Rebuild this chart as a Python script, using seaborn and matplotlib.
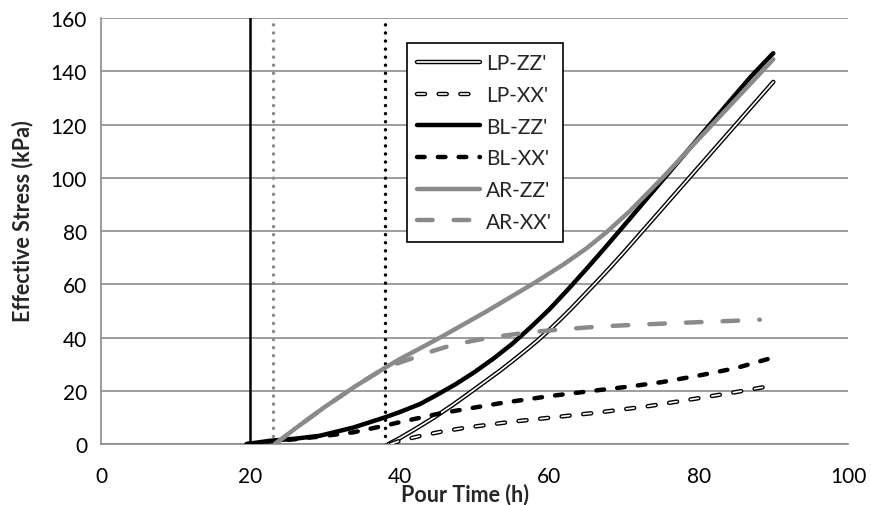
import pandas as pd
import matplotlib
matplotlib.use("Agg")
import matplotlib.pyplot as plt
import matplotlib.patheffects as pe
import seaborn as sns

# -----------------------------
# Data
# -----------------------------
lp_zz_t = [38.5, 40, 42, 44.5, 47, 49, 51, 53.4, 55, 57, 58.5, 60, 61.5, 63, 64.5, 66, 68, 70,
           75, 80, 85, 90]
lp_zz_s = [0, 2.2, 5.5, 9.8, 14.5, 18.5, 22.6, 27.5, 31, 35.5, 39, 42.8, 46.8, 51, 55.4, 59.8,
           65.8, 72, 88, 104, 120, 136]

lp_xx_t = [38.8, 40, 42.7, 45.5, 49, 54.8, 60.5, 66.8, 73.5, 80.2, 85, 90]
lp_xx_s = [0, 1.2, 3, 4.6, 6.2, 8.3, 10, 11.9, 14.3, 17.3, 19.5, 22]

bl_zz_t = [19.5, 22.6, 26, 29.3, 33.8, 38, 40, 42.7, 45, 47.5, 50, 52.5, 55, 57.5, 60, 62.5,
           65, 67.5, 70, 75, 80, 84, 87, 90]
bl_zz_s = [0, 1.2, 2, 3.1, 6.2, 10, 12, 15, 18.5, 22.5, 27, 32, 37.5, 43.8, 50.5, 58, 65.8,
           73.8, 82, 98.5, 115, 128.2, 138, 146.8]

bl_xx_t = [19.5, 22.6, 26, 29.3, 33.8, 38, 40, 45.4, 53.4, 60.1, 66.8, 70.8, 75, 80.2, 85, 90]
bl_xx_s = [0, 1, 1.8, 2.8, 4.4, 6.9, 8.2, 11.5, 15.3, 18, 20.3, 21.6, 23.2, 25.8, 28.5, 32.5]

ar_zz_t = [23.3, 26, 30, 34, 38, 40, 42.7, 45.8, 51.6, 57.9, 62, 65, 67.7, 70.8, 75, 78, 81,
           84, 87, 90]
ar_zz_s = [0, 5.8, 14, 21.6, 28.6, 31.9, 35.9, 40.6, 49.8, 60.3, 67.6, 73.5, 79.6, 87.5, 99.5,
           108.5, 117.5, 126.5, 135.5, 144.5]

ar_xx_t = [23.3, 26, 30, 34, 38, 40, 42.3, 44.5, 46.7, 49.5, 52.1, 57.4, 62.3, 67.2, 72.6,
           77.5, 82.4, 88.2]
ar_xx_s = [0, 5.8, 14, 21.6, 28.6, 30.6, 32.8, 35, 36.9, 38.6, 40, 42, 43.2, 44.2, 44.9,
           45.5, 46, 46.7]

# vertical markers (h)
vline_x = [20, 23, 38]

x_ticks = [0, 20, 40, 60, 80, 100]
y_ticks = [0, 20, 40, 60, 80, 100, 120, 140, 160]

# -----------------------------
# Style
# -----------------------------
sns.set_theme(style="white")
plt.rcParams["font.family"] = ["Lato", "DejaVu Sans"]
plt.rcParams["lines.scale_dashes"] = False

grid_grey = "#8c8c8c"
line_grey = "#8a8a8a"

fig = plt.figure(figsize=(8.71, 5.06), dpi=100)
ax = fig.add_axes([0.11596, 0.12055, 0.85763, 0.84190])

# vertical reference lines
ax.axvline(vline_x[0], color="black", lw=1.8, zorder=1)
ax.axvline(vline_x[1], color=line_grey, lw=2.5, linestyle=(0, (0.01, 5.8)),
           dash_capstyle="round", zorder=1)
ax.axvline(vline_x[2], color="black", lw=2.5, linestyle=(0, (0.01, 5.8)),
           dash_capstyle="round", zorder=1)

# double (outlined) lines for LP
outline = [pe.Stroke(linewidth=3.2, foreground="black"), pe.Normal()]

series = [
    ("LP-ZZ'", lp_zz_t, lp_zz_s, dict(color="white", lw=1.2, path_effects=outline,
                                       solid_capstyle="round")),
    ("LP-XX'", lp_xx_t, lp_xx_s, dict(color="white", lw=1.2, path_effects=outline,
                                       linestyle=(0, (5.8, 9.8)), dash_capstyle="round")),
    ("BL-ZZ'", bl_zz_t, bl_zz_s, dict(color="black", lw=3.2, solid_capstyle="round")),
    ("BL-XX'", bl_xx_t, bl_xx_s, dict(color="black", lw=3.2,
                                       linestyle=(0, (5.5, 9.5)), dash_capstyle="round")),
    ("AR-ZZ'", ar_zz_t, ar_zz_s, dict(color=line_grey, lw=3.2, solid_capstyle="round")),
    ("AR-XX'", ar_xx_t, ar_xx_s, dict(color=line_grey, lw=3.2,
                                       linestyle=(0, (11.2, 15.2)), dash_capstyle="round")),
]

for name, t, s, kw in series:
    df = pd.DataFrame({"t": t, "s": s})
    sns.lineplot(data=df, x="t", y="s", ax=ax, label=name, errorbar=None,
                 zorder=3, **kw)

# -----------------------------
# Axes
# -----------------------------
ax.set_xlim(0, 100)
ax.set_ylim(0, 160)
ax.set_xticks(x_ticks)
ax.set_yticks(y_ticks)
ax.yaxis.grid(True, color=grid_grey, lw=1.2)
ax.set_axisbelow(True)
for side in ["top", "right"]:
    ax.spines[side].set_visible(False)
for side in ["left", "bottom"]:
    ax.spines[side].set_color(grid_grey)
    ax.spines[side].set_linewidth(1.2)
ax.tick_params(axis="both", which="both", direction="out", length=5, width=1.2,
               color=grid_grey, labelsize=15, labelcolor="black")
ax.tick_params(axis="x", pad=11)
ax.tick_params(axis="y", pad=5)

ax.set_xlabel("Pour Time (h)", fontsize=15.5, fontweight="bold")
ax.set_ylabel("Effective Stress (kPa)", fontsize=15.5, fontweight="bold")
ax.xaxis.set_label_coords(0.487, -0.09)
ax.yaxis.set_label_coords(-0.09, 0.526)

leg = ax.legend(loc="upper left", bbox_to_anchor=(0.4096, 0.9413), frameon=True,
                fancybox=False, edgecolor="black", framealpha=1, fontsize=15,
                handlelength=3.0, labelspacing=0.56, handletextpad=0.3,
                borderpad=0.5, borderaxespad=0)
leg.get_frame().set_linewidth(1.2)
leg.set_zorder(5)

fig.savefig("out.png", dpi=100)
